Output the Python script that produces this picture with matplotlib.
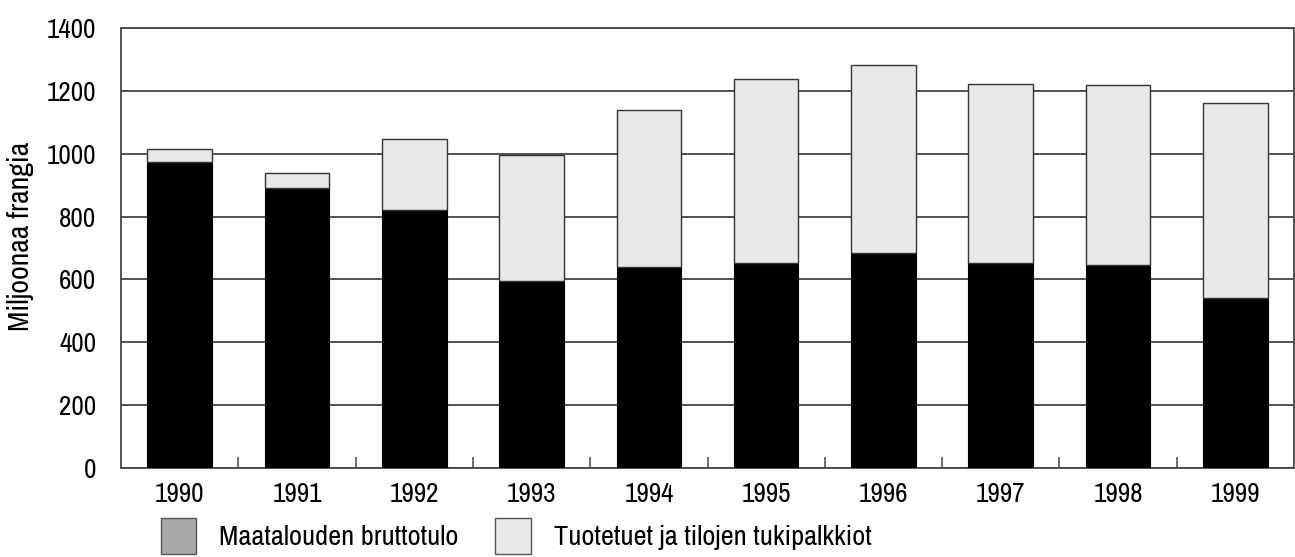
import matplotlib
matplotlib.use("Agg")
import matplotlib.pyplot as plt
from matplotlib.patches import Patch
import numpy as np

plt.rcParams['font.family'] = ['Archivo Narrow', 'DejaVu Sans']

years = ['1990', '1991', '1992', '1993', '1994', '1995', '1996', '1997', '1998', '1999']
bruttotulo = [974, 891, 821, 595, 640, 652, 684, 652, 646, 542]
tuet = [41, 48, 226, 401, 499, 586, 598, 570, 573, 619]
y_ticks = [0, 200, 400, 600, 800, 1000, 1200, 1400]
legend_labels = ['Maatalouden bruttotulo', 'Tuotetuet ja tilojen tukipalkkiot']
ylabel = 'Miljoonaa frangia'

fig = plt.figure(figsize=(12.95, 5.57), dpi=100)
ax = fig.add_axes([121/1295, 1 - 468/557, (1294-121)/1295, (468-28)/557])

x = np.arange(len(years))
w = 0.55
ax.bar(x, bruttotulo, width=w, color='black', edgecolor='black', linewidth=0.8, zorder=3)
ax.bar(x, tuet, bottom=bruttotulo, width=w, color='#e8e8e8', edgecolor='#333333', linewidth=1.0, zorder=3)

ax.set_xlim(-0.5, len(years) - 0.5)
ax.set_ylim(0, 1400)
ax.set_yticks(y_ticks)
ax.set_yticklabels([str(v) for v in y_ticks], fontsize=19.5)
ax.yaxis.grid(True, color='#444444', linewidth=1.3, zorder=0)
ax.tick_params(axis='y', length=0, pad=18)

ax.set_xticks(x)
ax.set_xticklabels(years, fontsize=19.5)
ax.tick_params(axis='x', length=0, pad=10)
ax.set_xticks(np.arange(0.5, len(years) - 1, 1), minor=True)
ax.tick_params(axis='x', which='minor', direction='in', length=8, width=1.2, color='#555555')

for s in ax.spines.values():
    s.set_color('#444444')
    s.set_linewidth(1.3)

fig.text(21/1295, 1 - 236/557, ylabel, rotation=90, va='center', ha='center', fontsize=21.5)

handles = [Patch(facecolor='#a8a8a8', edgecolor='#555555', linewidth=1.0),
           Patch(facecolor='#e8e8e8', edgecolor='#555555', linewidth=1.0)]
fig.legend(handles, legend_labels, loc='lower left', bbox_to_anchor=(135/1295, -0.04),
           ncol=2, frameon=False, fontsize=20.5, handlelength=1.25, handleheight=1.55,
           handletextpad=0.8, columnspacing=1.3)

fig.savefig('out.png', dpi=100)
